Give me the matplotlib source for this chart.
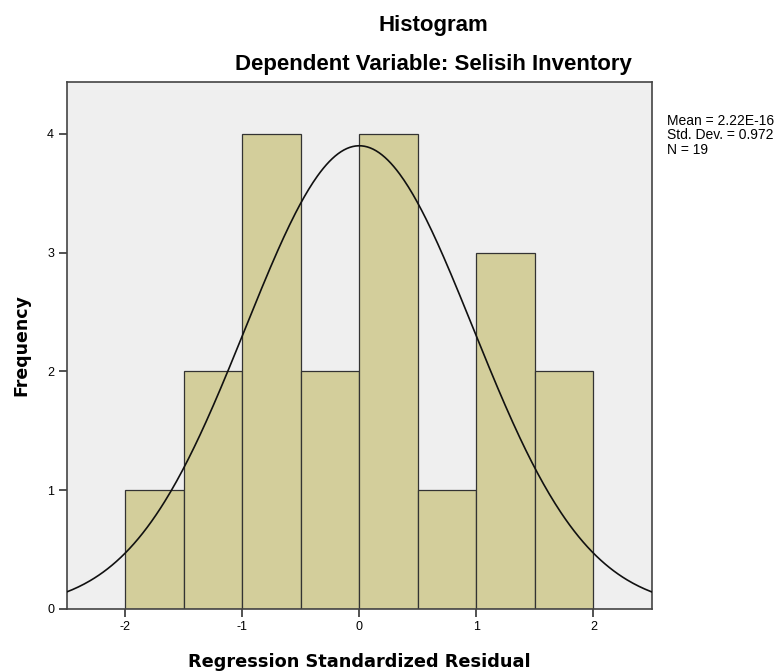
import numpy as np
import matplotlib
matplotlib.use("Agg")
import matplotlib.pyplot as plt

# Data
bin_edges = [-2.0, -1.5, -1.0, -0.5, 0.0, 0.5, 1.0, 1.5, 2.0]
frequencies = [1, 2, 4, 2, 4, 1, 3, 2]
mean_val = 2.22e-16
std_val = 0.972
n_val = 19
x_ticks = [-2, -1, 0, 1, 2]
y_ticks = [0, 1, 2, 3, 4]

fig = plt.figure(figsize=(7.79, 6.72), dpi=100)
ax = fig.add_axes([0.0854, 0.0938, 0.8370 - 0.0854, 0.8787 - 0.0938])
ax.set_facecolor("#EFEFEF")

lefts = np.array(bin_edges[:-1])
widths = np.diff(bin_edges)
ax.bar(lefts, frequencies, width=widths, align="edge",
       color="#D3CE9B", edgecolor="#333333", linewidth=0.9, zorder=2)

# Fitted normal curve (from the stated mean, std and N)
bw = widths[0]
xs = np.linspace(-2.5, 2.5, 400)
ys = n_val * bw * np.exp(-0.5 * ((xs - mean_val) / std_val) ** 2) / (std_val * np.sqrt(2 * np.pi))
ax.plot(xs, ys, color="#111111", linewidth=1.2, zorder=3)

ax.set_xlim(-2.5, 2.5)
ax.set_ylim(0, 4.44)
ax.set_xticks(x_ticks)
ax.set_yticks(y_ticks)
ax.set_xticklabels([str(t) for t in x_ticks], family="Liberation Sans", fontsize=9)
ax.set_yticklabels([str(t) for t in y_ticks], family="Liberation Sans", fontsize=9)
ax.tick_params(direction="out", length=6, width=1.2, color="#333333", pad=3)
for s in ax.spines.values():
    s.set_color("#444444")
    s.set_linewidth(1.2)

ax.set_xlabel("Regression Standardized Residual", family="DejaVu Sans",
              fontweight="bold", fontsize=12.8, labelpad=14)
ax.set_ylabel("Frequency", family="DejaVu Sans", fontweight="bold",
              fontsize=12.5, labelpad=12)

fig.text(0.556, 0.962, "Histogram", family="Liberation Sans", fontweight="bold",
         fontsize=16, ha="center", va="center")
fig.text(0.556, 0.904, "Dependent Variable: Selisih Inventory", family="Liberation Sans",
         fontweight="bold", fontsize=16, ha="center", va="center")

fig.text(0.856, 0.831, "Mean = 2.22E-16\nStd. Dev. = 0.972\nN = 19",
         family="Liberation Sans", fontsize=10, ha="left", va="top", linespacing=1.08)

fig.savefig("out.png", dpi=100, facecolor="white")
